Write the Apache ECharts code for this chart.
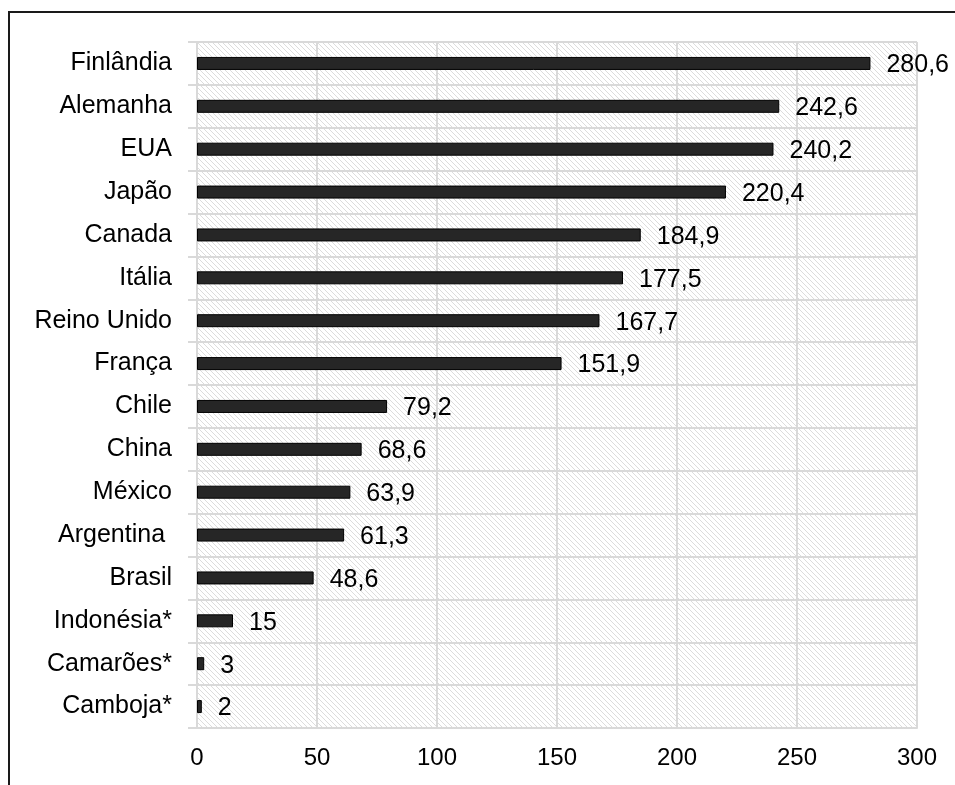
<!DOCTYPE html>
<html>
<head>
<meta charset="utf-8">
<script src="https://cdn.jsdelivr.net/npm/echarts@6/dist/echarts.min.js"></script>
<style>
    html, body { margin: 0; padding: 0; background: #fff; }
    #frame { position: absolute; left: 8px; top: 11px; width: 1000px; height: 800px;
        border-left: 2px solid #1a1a1a; border-top: 2px solid #1a1a1a; }
    #box1 { position: absolute; left: 0; top: 0; width: 955px; height: 785px; }
</style>
</head>
<body>
<div id="frame"></div>
<div id="box1"></div>
<script>
const aCountry = ['Finlândia', 'Alemanha', 'EUA', 'Japão', 'Canada', 'Itália', 'Reino Unido', 'França',
    'Chile', 'China', 'México', 'Argentina ', 'Brasil', 'Indonésia*', 'Camarões*', 'Camboja*'];
const aValue = [280.6, 242.6, 240.2, 220.4, 184.9, 177.5, 167.7, 151.9, 79.2, 68.6, 63.9, 61.3, 48.6, 15, 3, 2];
const aTicks = [0, 50, 100, 150, 200, 250, 300];

// ▼斜线底纹
function makeHatch(){
    const c = document.createElement('canvas');
    c.width = 5; c.height = 5;
    const ctx = c.getContext('2d');
    ctx.fillStyle = '#fff';
    ctx.fillRect(0, 0, 5, 5);
    ctx.fillStyle = '#dcdcdc';
    for (let i = 0; i < 5; i++) ctx.fillRect(i, i, 1, 1);
    return c;
}

const sFont = '"Liberation Sans", Arial, sans-serif';
const myChart = echarts.init(document.getElementById('box1'));
const option = {
    animation: false,
    textStyle: { fontFamily: sFont },
    grid: {
        left: 197, right: 38, top: 42, bottom: 57,
        show: true,
        borderWidth: 0,
        backgroundColor: { image: makeHatch(), repeat: 'repeat' },
    },
    xAxis: {
        type: 'value',
        min: aTicks[0],
        max: aTicks[aTicks.length - 1],
        interval: 50,
        axisLine: { show: true, lineStyle: { color: '#d9d9d9', width: 2 } },
        axisTick: { show: false },
        splitLine: { show: true, lineStyle: { color: '#d9d9d9', width: 2 } },
        axisLabel: { color: '#000', fontSize: 24, margin: 18, fontFamily: sFont },
    },
    yAxis: {
        type: 'category',
        inverse: true,
        data: aCountry,
        axisLine: { show: true, lineStyle: { color: '#d9d9d9', width: 2 } },
        axisTick: { show: true, length: 9, lineStyle: { color: '#d9d9d9', width: 2 } },
        splitLine: { show: true, lineStyle: { color: '#d9d9d9', width: 2 } },
        axisLabel: { color: '#000', fontSize: 25, margin: 25, fontFamily: sFont, padding: [4, 0, 0, 0] },
    },
    series: [{
        type: 'bar',
        data: aValue,
        barWidth: 13,
        itemStyle: { color: '#262626', borderColor: '#000', borderWidth: 1 },
        label: {
            show: true,
            position: 'right',
            distance: 16,
            color: '#000',
            fontSize: 25,
            fontFamily: sFont,
            offset: [0, 2],
            formatter: p => String(p.value).replace('.', ','),
        },
    }],
};
myChart.setOption(option);
</script>
</body>
</html>
